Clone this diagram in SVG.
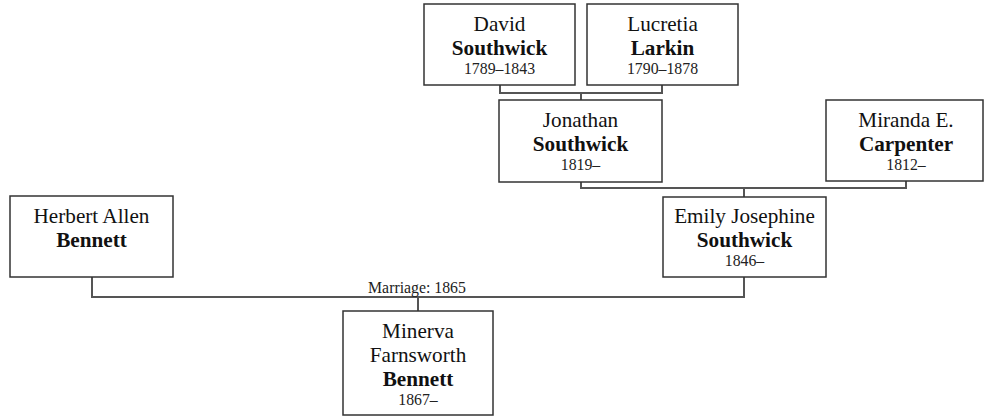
<svg xmlns="http://www.w3.org/2000/svg" width="984" height="417" viewBox="0 0 984 417">
<style>
.box{fill:#fff;stroke:#333;stroke-width:1.5}
.nm{font-family:"Liberation Serif","Times New Roman",serif;font-size:21.2px;fill:#111;text-anchor:middle}
.b{font-weight:bold}
.yr{font-family:"Liberation Serif","Times New Roman",serif;font-size:15.8px;fill:#222;text-anchor:middle}
.lbl{font-family:"Liberation Serif","Times New Roman",serif;font-size:15.8px;fill:#222;text-anchor:middle}
.ln{fill:none;stroke:#555;stroke-width:2}
</style>
<rect width="984" height="417" fill="#fff"/>
<g id="connectors">
<path class="ln" d="M500,85 V93 H662 V85 M581,93 V100"/>
<path class="ln" d="M581,182 V188 H906 V181 M744,188 V197"/>
<path class="ln" d="M92,277 V297 H744 V277 M418,297 V311"/>
<text class="lbl" x="417" y="293">Marriage: 1865</text>
</g>
<g id="david">
<rect class="box" x="424" y="4" width="151" height="81"/>
<text class="nm" x="499.5" y="31">David</text>
<text class="nm b" x="499.5" y="55">Southwick</text>
<text class="yr" x="499.5" y="74">1789–1843</text>
</g>
<g id="lucretia">
<rect class="box" x="587" y="4" width="151" height="81"/>
<text class="nm" x="662.5" y="31">Lucretia</text>
<text class="nm b" x="662.5" y="55">Larkin</text>
<text class="yr" x="662.5" y="74">1790–1878</text>
</g>
<g id="jonathan">
<rect class="box" x="499" y="100" width="163" height="82"/>
<text class="nm" x="580.5" y="127">Jonathan</text>
<text class="nm b" x="580.5" y="151">Southwick</text>
<text class="yr" x="580.5" y="170">1819–</text>
</g>
<g id="miranda">
<rect class="box" x="826" y="100" width="157" height="81"/>
<text class="nm" x="906" y="127">Miranda E.</text>
<text class="nm b" x="906" y="151">Carpenter</text>
<text class="yr" x="906" y="170">1812–</text>
</g>
<g id="emily">
<rect class="box" x="663" y="197" width="163" height="80"/>
<text class="nm" x="744.5" y="223">Emily Josephine</text>
<text class="nm b" x="744.5" y="247">Southwick</text>
<text class="yr" x="744.5" y="266">1846–</text>
</g>
<g id="herbert">
<rect class="box" x="10" y="196" width="163" height="81"/>
<text class="nm" x="91.5" y="223">Herbert Allen</text>
<text class="nm b" x="91.5" y="247">Bennett</text>
</g>
<g id="minerva">
<rect class="box" x="343" y="311" width="150" height="104"/>
<text class="nm" x="418" y="338">Minerva</text>
<text class="nm" x="418" y="362">Farnsworth</text>
<text class="nm b" x="418" y="386">Bennett</text>
<text class="yr" x="418" y="405">1867–</text>
</g>
</svg>
